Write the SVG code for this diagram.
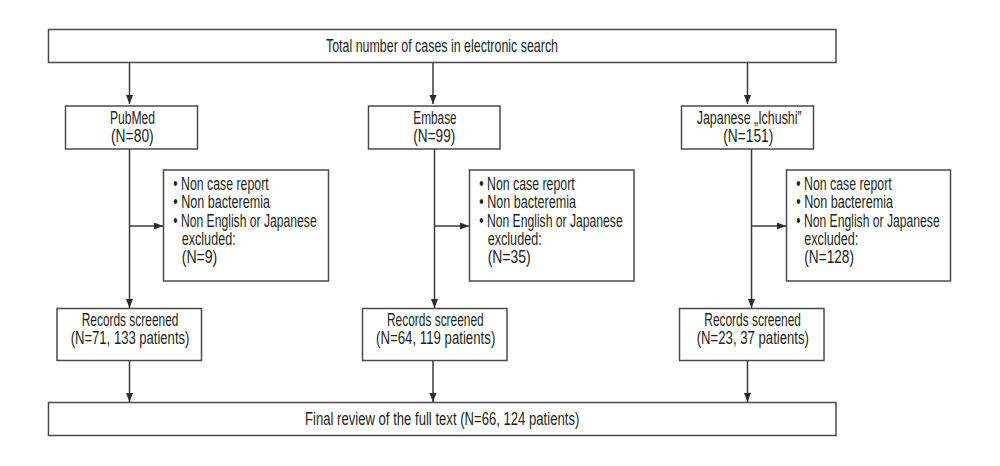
<svg xmlns="http://www.w3.org/2000/svg" width="1000" height="466" viewBox="0 0 1000 466">
<defs>
<marker id="ah" markerWidth="10" markerHeight="8" refX="9" refY="3.5" orient="auto" markerUnits="userSpaceOnUse">
<path d="M0,0 L9,3.5 L0,7 Z" fill="#2b2b2b"/>
</marker>
<style>
.box{fill:#fff;stroke:#4a4a4a;stroke-width:1.5}
.t{font-family:"Liberation Sans",Arial,sans-serif;font-size:17.5px;fill:#231f20}
.ln{stroke:#3a3a3a;stroke-width:1.5;fill:none}
</style>
</defs>
<rect width="1000" height="466" fill="#fff"/>
<g id="connectors">
<path class="ln" d="M129.5,63 V104" marker-end="url(#ah)"/>
<path class="ln" d="M433,63 V104" marker-end="url(#ah)"/>
<path class="ln" d="M747.5,63 V104" marker-end="url(#ah)"/>
<path class="ln" d="M129.5,149 V308" marker-end="url(#ah)"/>
<path class="ln" d="M434.5,149 V308" marker-end="url(#ah)"/>
<path class="ln" d="M751.5,149 V308" marker-end="url(#ah)"/>
<path class="ln" d="M129.5,226 H163" marker-end="url(#ah)"/>
<path class="ln" d="M434.5,226 H469" marker-end="url(#ah)"/>
<path class="ln" d="M751.5,226 H786" marker-end="url(#ah)"/>
<path class="ln" d="M129.5,360.5 V402" marker-end="url(#ah)"/>
<path class="ln" d="M433,360.5 V402" marker-end="url(#ah)"/>
<path class="ln" d="M747.5,360.5 V402" marker-end="url(#ah)"/>
</g>
<g id="total">
<rect class="box" x="48.5" y="29.5" width="787.5" height="33"/>
<text class="t" x="326" y="52" textLength="232" lengthAdjust="spacingAndGlyphs">Total number of cases in electronic search</text>
</g>
<g id="pubmed">
<rect class="box" x="65.5" y="106" width="132" height="43"/>
<text class="t" x="110" y="124" textLength="45" lengthAdjust="spacingAndGlyphs">PubMed</text>
<text class="t" x="111" y="142" textLength="42.7" lengthAdjust="spacingAndGlyphs">(N=80)</text>
</g>
<g id="embase">
<rect class="box" x="368.5" y="106" width="131.5" height="43"/>
<text class="t" x="413.3" y="124" textLength="43.4" lengthAdjust="spacingAndGlyphs">Embase</text>
<text class="t" x="413.3" y="142" textLength="42" lengthAdjust="spacingAndGlyphs">(N=99)</text>
</g>
<g id="ichushi">
<rect class="box" x="681.5" y="106" width="132" height="43"/>
<text class="t" x="696.7" y="124" textLength="105" lengthAdjust="spacingAndGlyphs">Japanese „Ichushi”</text>
<text class="t" x="723.3" y="142" textLength="50" lengthAdjust="spacingAndGlyphs">(N=151)</text>
</g>
<g id="excl-pubmed">
<rect class="box" x="163.5" y="170" width="165" height="111"/>
<text class="t" x="173.3" y="190" textLength="95.4" lengthAdjust="spacingAndGlyphs">• Non case report</text>
<text class="t" x="173.3" y="208.3" textLength="96.7" lengthAdjust="spacingAndGlyphs">• Non bacteremia</text>
<text class="t" x="173.3" y="226.6" textLength="143.4" lengthAdjust="spacingAndGlyphs">• Non English or Japanese</text>
<text class="t" x="181.7" y="245" textLength="54" lengthAdjust="spacingAndGlyphs">excluded:</text>
<text class="t" x="181.7" y="263.3" textLength="35.6" lengthAdjust="spacingAndGlyphs">(N=9)</text>
</g>
<g id="excl-embase">
<rect class="box" x="469.5" y="170" width="164.5" height="111"/>
<text class="t" x="479.3" y="190" textLength="95.4" lengthAdjust="spacingAndGlyphs">• Non case report</text>
<text class="t" x="479.3" y="208.3" textLength="96.7" lengthAdjust="spacingAndGlyphs">• Non bacteremia</text>
<text class="t" x="479.3" y="226.6" textLength="143.4" lengthAdjust="spacingAndGlyphs">• Non English or Japanese</text>
<text class="t" x="487.7" y="245" textLength="54" lengthAdjust="spacingAndGlyphs">excluded:</text>
<text class="t" x="487.7" y="263.3" textLength="43" lengthAdjust="spacingAndGlyphs">(N=35)</text>
</g>
<g id="excl-ichushi">
<rect class="box" x="786.5" y="170" width="164" height="111"/>
<text class="t" x="796.3" y="190" textLength="95.4" lengthAdjust="spacingAndGlyphs">• Non case report</text>
<text class="t" x="796.3" y="208.3" textLength="96.7" lengthAdjust="spacingAndGlyphs">• Non bacteremia</text>
<text class="t" x="796.3" y="226.6" textLength="143.4" lengthAdjust="spacingAndGlyphs">• Non English or Japanese</text>
<text class="t" x="804.3" y="245" textLength="54" lengthAdjust="spacingAndGlyphs">excluded:</text>
<text class="t" x="804.3" y="263.3" textLength="49.7" lengthAdjust="spacingAndGlyphs">(N=128)</text>
</g>
<g id="rec-pubmed">
<rect class="box" x="57" y="308.5" width="144.5" height="52"/>
<text class="t" x="81.7" y="325.7" textLength="96.7" lengthAdjust="spacingAndGlyphs">Records screened</text>
<text class="t" x="70.7" y="344" textLength="118.7" lengthAdjust="spacingAndGlyphs">(N=71, 133 patients)</text>
</g>
<g id="rec-embase">
<rect class="box" x="362.5" y="308.5" width="144.5" height="52"/>
<text class="t" x="387" y="325.7" textLength="96.7" lengthAdjust="spacingAndGlyphs">Records screened</text>
<text class="t" x="376" y="344" textLength="119.3" lengthAdjust="spacingAndGlyphs">(N=64, 119 patients)</text>
</g>
<g id="rec-ichushi">
<rect class="box" x="679.5" y="308.5" width="144.5" height="52"/>
<text class="t" x="704.3" y="325.7" textLength="96.7" lengthAdjust="spacingAndGlyphs">Records screened</text>
<text class="t" x="696.7" y="344" textLength="112.3" lengthAdjust="spacingAndGlyphs">(N=23, 37 patients)</text>
</g>
<g id="final">
<rect class="box" x="48.5" y="402.5" width="787.5" height="33"/>
<text class="t" x="305" y="425" textLength="274.3" lengthAdjust="spacingAndGlyphs">Final review of the full text (N=66, 124 patients)</text>
</g>
</svg>
